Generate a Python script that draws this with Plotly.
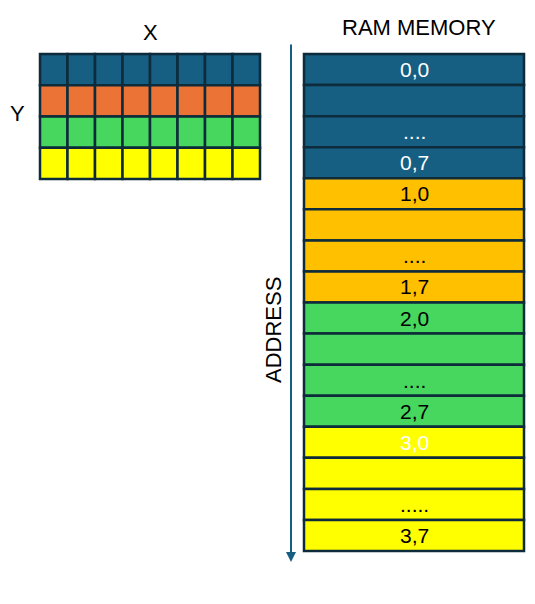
import plotly.graph_objects as go

grid_colors = ["#165E82", "#EB7335", "#47D65E", "#FFFF00"]
n_cols = 8
ram_colors = ["#165E82"]*4 + ["#FFC000"]*4 + ["#47D65E"]*4 + ["#FFFF00"]*4
ram_labels = ["0,0", "", "....", "0,7", "1,0", "", "....", "1,7",
              "2,0", "", "....", "2,7", "3,0", "", ".....", "3,7"]
ram_text_colors = ["white"]*4 + ["black"]*8 + ["white"] + ["black"]*3

W, H = 535, 604
OFF = 8
fig = go.Figure()
fig.add_trace(go.Scatter(x=[0, W], y=[0, H], mode="markers", marker=dict(opacity=0), hoverinfo="skip"))
border = "#0D2B3A"
gx0, gx1, gy0, gy1 = 40, 260, 54, 179
cw = (gx1-gx0)/n_cols; rh = (gy1-gy0)/len(grid_colors)
for r, c in enumerate(grid_colors):
    for k in range(n_cols):
        fig.add_shape(type="rect", x0=gx0+k*cw, x1=gx0+(k+1)*cw, y0=gy0+r*rh, y1=gy0+(r+1)*rh,
                      fillcolor=c, line=dict(color=border, width=2.5))
rx0, rx1, ry0, ry1 = 304, 524, 54, 551
rr = (ry1-ry0)/len(ram_colors)
for i, (c, t, tc) in enumerate(zip(ram_colors, ram_labels, ram_text_colors)):
    fig.add_shape(type="rect", x0=rx0, x1=rx1, y0=ry0+i*rr, y1=ry0+(i+1)*rr,
                  fillcolor=c, line=dict(color=border, width=2.5))
    if t:
        fig.add_annotation(x=(rx0+rx1)/2, y=ry0+(i+0.5)*rr, text=t, showarrow=False,
                           font=dict(size=21, color=tc, family="Liberation Sans"))
fig.add_annotation(x=291, y=562, ax=291, ay=43, xref="x", yref="y", axref="x", ayref="y",
                   showarrow=True, arrowhead=2, arrowsize=1, arrowwidth=2, arrowcolor="#165E82", text="")
font = dict(size=22, color="black", family="Liberation Sans")
fig.add_annotation(x=150, y=32, text="X", showarrow=False, font=font)
fig.add_annotation(x=17, y=113, text="Y", showarrow=False, font=font)
fig.add_annotation(x=419, y=27, text="RAM MEMORY", showarrow=False, font=font)
fig.add_annotation(x=273, y=330, text="ADDRESS", showarrow=False, textangle=-90, font=font)
fig.update_layout(width=W, height=H, margin=dict(l=0, r=0, t=0, b=0), showlegend=False,
                  plot_bgcolor="white", paper_bgcolor="white",
                  xaxis=dict(range=[OFF, W+OFF], visible=False, fixedrange=True),
                  yaxis=dict(range=[H+OFF, OFF], visible=False, fixedrange=True))
fig.write_html("out.html")
